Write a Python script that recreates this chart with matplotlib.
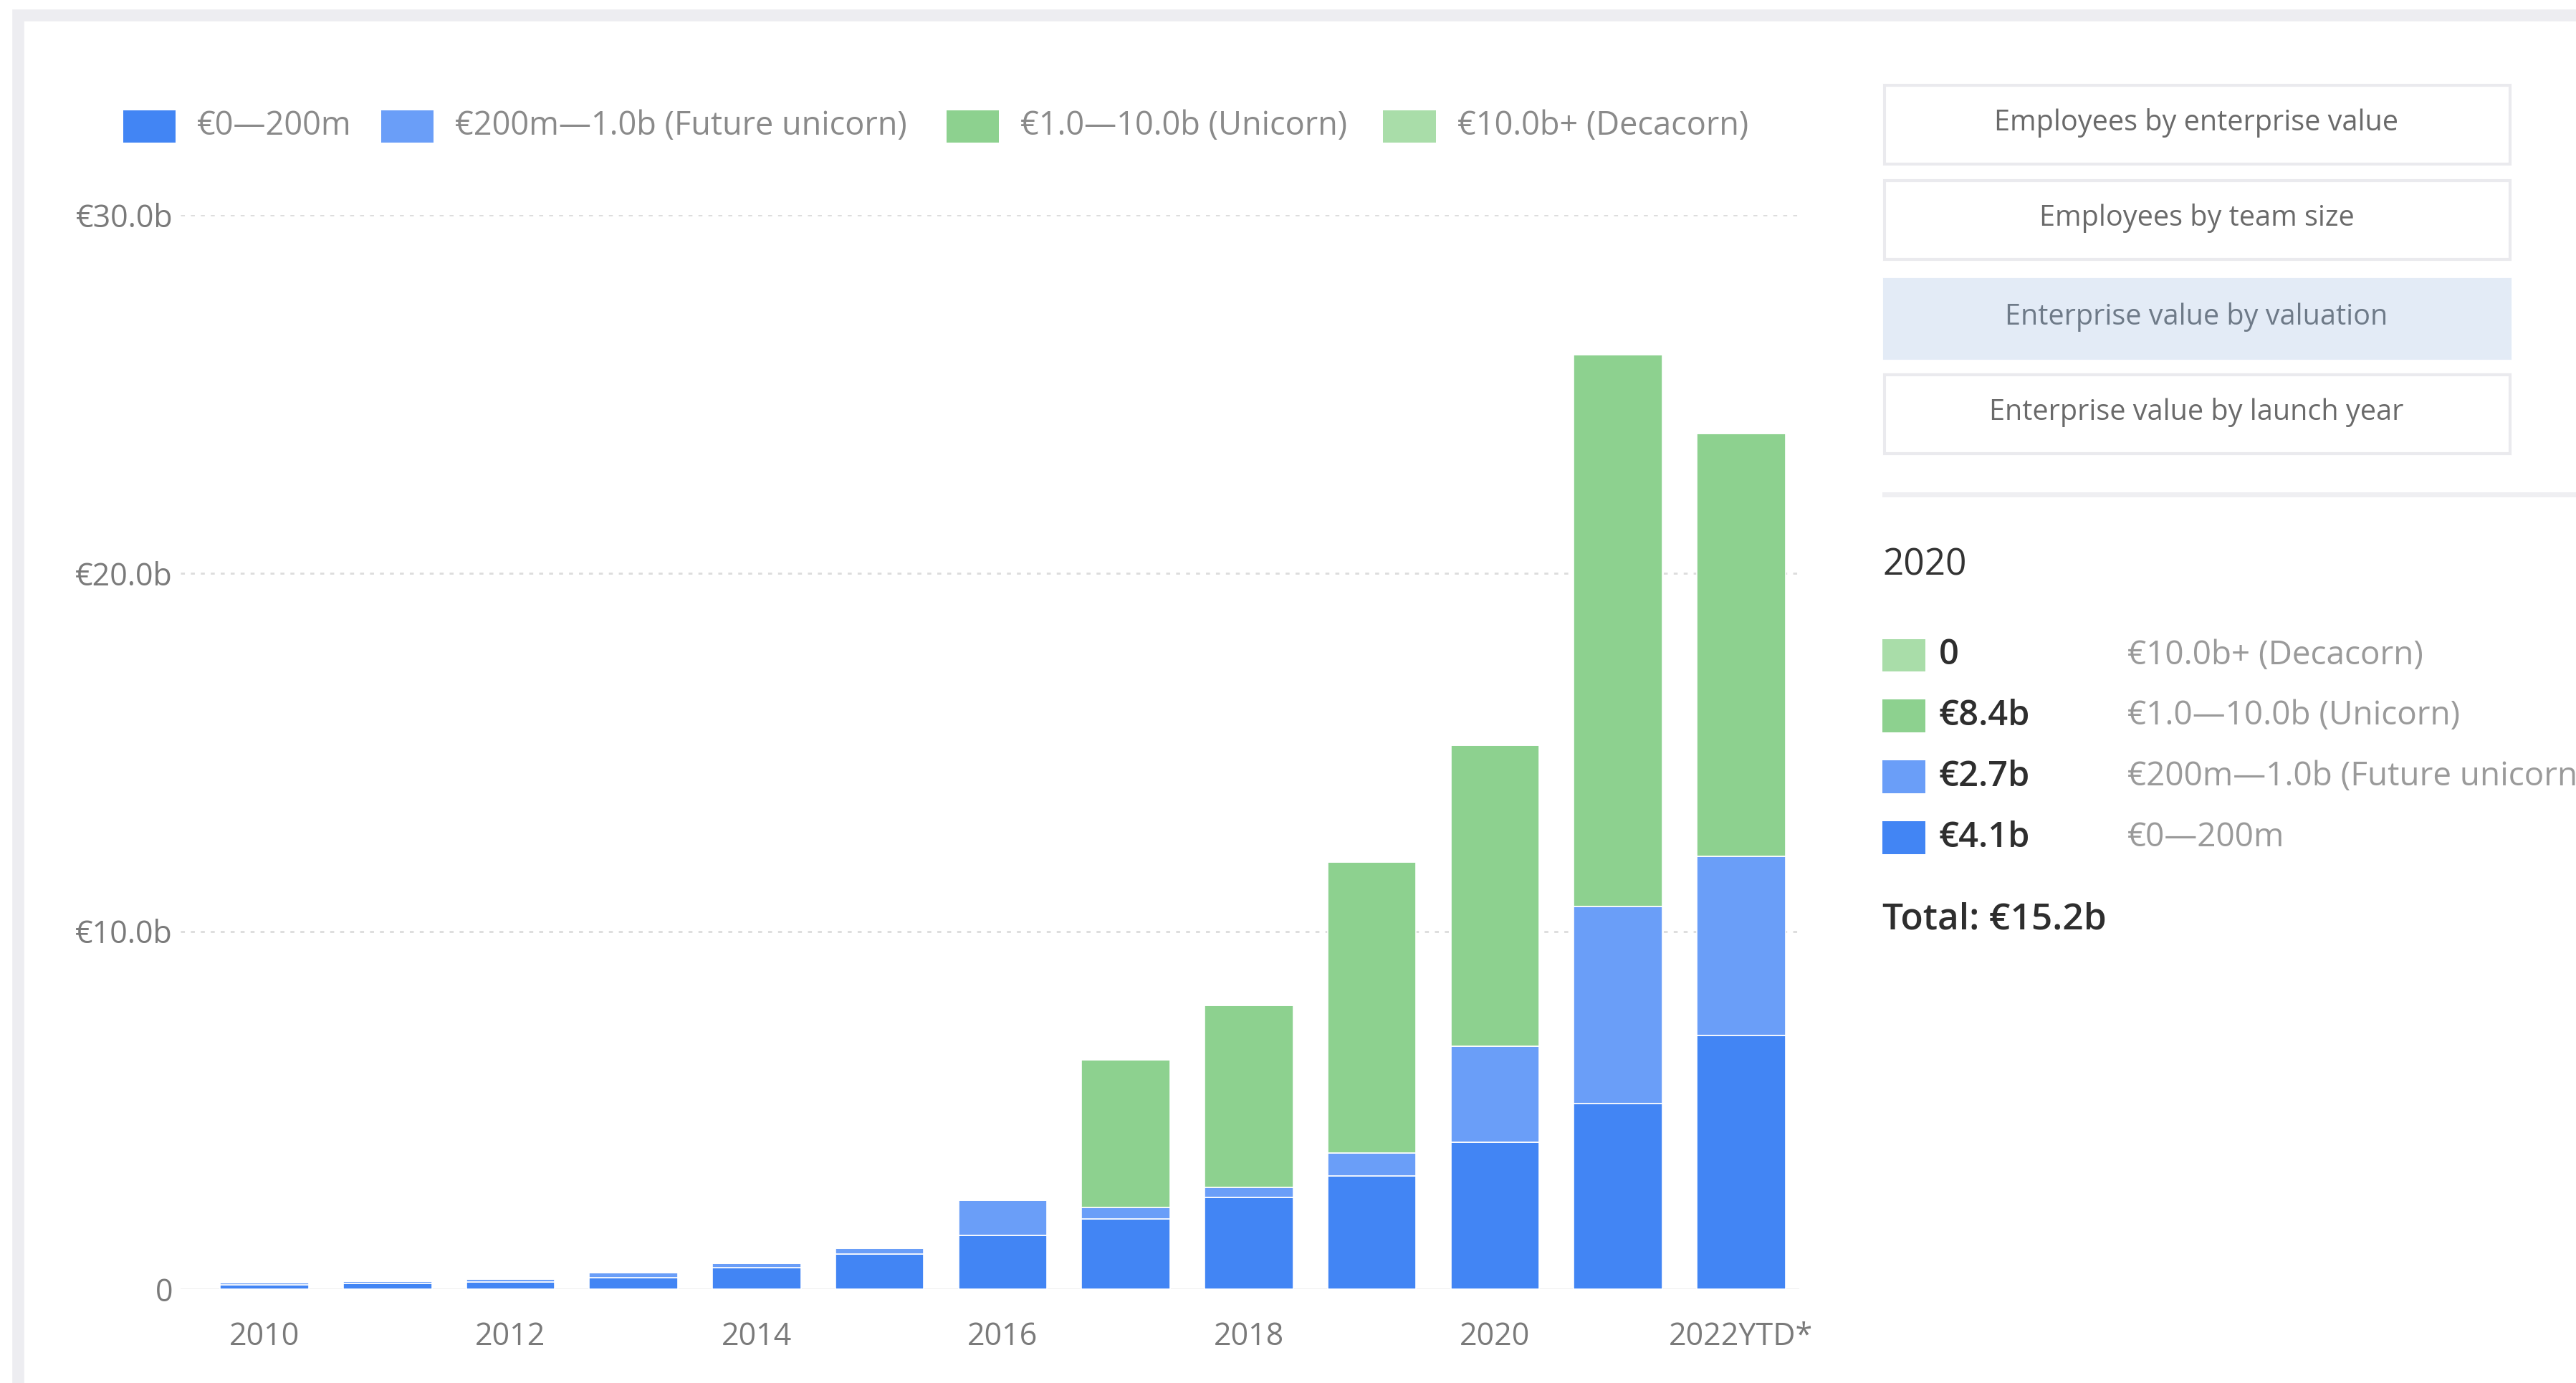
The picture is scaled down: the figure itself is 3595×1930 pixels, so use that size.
import matplotlib.pyplot as plt
import numpy as np
from matplotlib.patches import Rectangle

plt.rcParams['font.family'] = ['Open Sans', 'DejaVu Sans']

# enterprise value per launch year, in € billions
years = ['2010', '2011', '2012', '2013', '2014', '2015', '2016',
         '2017', '2018', '2019', '2020', '2021', '2022YTD*']
tick_labels = ['2010', '', '2012', '', '2014', '', '2016',
               '', '2018', '', '2020', '', '2022YTD*']
small = [0.12, 0.17, 0.20, 0.33, 0.60, 0.98, 1.51, 1.97, 2.57, 3.17, 4.1, 5.2, 7.1]
future_unicorn = [0.06, 0.06, 0.08, 0.13, 0.13, 0.17, 0.97, 0.32, 0.27, 0.64, 2.7, 5.5, 5.0]
unicorn = [0, 0, 0, 0, 0, 0, 0, 4.13, 5.10, 8.12, 8.4, 15.4, 11.8]
decacorn = [0] * 13

series_names = ['€0—200m', '€200m—1.0b (Future unicorn)',
                '€1.0—10.0b (Unicorn)', '€10.0b+ (Decacorn)']
colors = ['#4285F4', '#6A9EF8', '#8DD18F', '#A9DDA9']

W, H = 1568, 842  # layout grid used for placing things on the figure


def fx(x):
    return x / W


def fy(y):
    return 1 - y / H


fig = plt.figure(figsize=(35.95, 19.30), dpi=100)
fig.patch.set_facecolor('white')

# card frame (top and left edges only; the card runs on past the bottom/right)
fig.add_artist(Rectangle((fx(11), fy(900)), fx(1700), fy(9) - fy(900),
                         transform=fig.transFigure, facecolor='none',
                         edgecolor='#EDEDF1', linewidth=12))

ax = fig.add_axes([fx(110), fy(785), fx(1095) - fx(110), fy(131) - fy(785)])
x = np.arange(len(years))
stack = [small, future_unicorn, unicorn, decacorn]
bottom = np.zeros(len(years))
for vals, c in zip(stack, colors):
    vals = np.array(vals, dtype=float)
    ax.bar(x, vals, width=0.72, bottom=bottom, color=c,
           edgecolor='#FFFFFF', linewidth=1.2, zorder=3)
    bottom += vals

ax.set_xlim(-0.68, 12.47)
ax.set_ylim(0, 30)
ax.set_yticks([0, 10, 20, 30])
ax.set_yticklabels(['0', '€10.0b', '€20.0b', '€30.0b'])
ax.set_xticks(x)
ax.set_xticklabels(tick_labels)
ax.tick_params(axis='both', length=0, labelsize=31, labelcolor='#7A7A7A')
ax.tick_params(axis='x', pad=32)
ax.tick_params(axis='y', pad=8)
for s in ax.spines.values():
    s.set_visible(False)
for v in [10, 20, 30]:
    ax.axhline(v, color='#DCDCDC', linestyle=(0, (2, 3)), linewidth=2, zorder=1)
ax.axhline(0, color='#EEEEEE', linewidth=2, zorder=1)

# top legend
leg_x = [75, 232, 576, 842]
for lx, name, c in zip(leg_x, series_names, colors):
    fig.add_artist(Rectangle((fx(lx), fy(87)), fx(32), fy(67) - fy(87),
                             transform=fig.transFigure, facecolor=c, edgecolor='none'))
    fig.text(fx(lx + 45), fy(77), name, fontsize=32.5, color='#8A8A8A',
             va='center', ha='left')

# view selector buttons
buttons = ['Employees by enterprise value', 'Employees by team size',
           'Enterprise value by valuation', 'Enterprise value by launch year']
btn_top = [52, 110, 170, 228]
for i, (label, top) in enumerate(zip(buttons, btn_top)):
    active = i == 2
    fig.add_artist(Rectangle((fx(1147), fy(top + 48)), fx(381), fy(top) - fy(top + 48),
                             transform=fig.transFigure,
                             facecolor='#E3EBF6' if active else 'white',
                             edgecolor='#E3EBF6' if active else '#EAEAEE',
                             linewidth=3))
    fig.text(fx(1337), fy(top + 23), label, fontsize=28.5,
             color='#6E7A88' if active else '#6A6A6A', ha='center', va='center')

fig.add_artist(plt.Line2D([fx(1147), fx(1568)], [fy(301), fy(301)],
                          transform=fig.transFigure, color='#EFEFF2', linewidth=5))

# breakdown for the selected year
sel = years.index('2020')
fig.text(fx(1146), fy(344), years[sel], fontsize=37, color='#333333',
         ha='left', va='center')


def fmt(v):
    return '0' if v == 0 else f'€{v:.1f}b'


rows = [(decacorn, 3), (unicorn, 2), (future_unicorn, 1), (small, 0)]
row_y = [399, 436, 473, 510]
for (vals, k), ry in zip(rows, row_y):
    fig.add_artist(Rectangle((fx(1146), fy(ry + 10)), fx(26), fy(ry - 10) - fy(ry + 10),
                             transform=fig.transFigure, facecolor=colors[k], edgecolor='none'))
    fig.text(fx(1180), fy(ry), fmt(vals[sel]), fontsize=35, color='#2E2E2E',
             ha='left', va='center', fontweight='semibold')
    fig.text(fx(1295), fy(ry), series_names[k], fontsize=33, color='#9A9A9A',
             ha='left', va='center')

total = small[sel] + future_unicorn[sel] + unicorn[sel] + decacorn[sel]
fig.text(fx(1146), fy(560), f'Total: €{total:.1f}b', fontsize=37, color='#2E2E2E',
         ha='left', va='center', fontweight='semibold')

fig.savefig('out.png', dpi=100)
